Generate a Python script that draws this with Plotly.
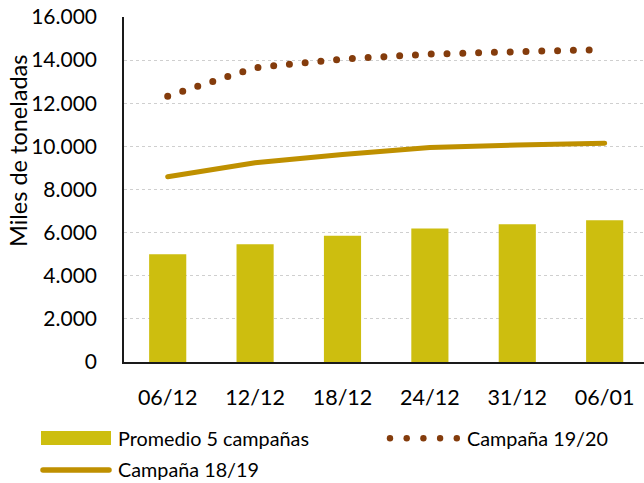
import plotly.graph_objects as go

# ---- data ----
categories = ["06/12", "12/12", "18/12", "24/12", "31/12", "06/01"]
promedio_5 = [5000, 5460, 5860, 6190, 6390, 6570]
campana_1819 = [8590, 9240, 9620, 9950, 10060, 10150]
campana_1920 = [12330, 13650, 14050, 14280, 14390, 14490]
y_ticks = [0, 2000, 4000, 6000, 8000, 10000, 12000, 14000, 16000]

BAR_C = "#CDBE0F"
GOLD = "#BF9000"
BROWN = "#843C0C"
FONT = "Lato"

W, H = 644, 483
ML, MR, MT, MB = 124, 0, 17, 121
PW, PH = W - ML - MR, H - MT - MB


def px(x):
    return (x - ML) / PW


def py(y):
    return (H - MB - y) / PH


fig = go.Figure()
fig.add_trace(go.Bar(x=categories, y=promedio_5, name="Promedio 5 campañas",
                     marker=dict(color=BAR_C, line=dict(width=0))))
fig.add_trace(go.Scatter(x=categories, y=campana_1819, name="Campaña 18/19", mode="lines",
                         line=dict(color=GOLD, width=5)))
fig.add_trace(go.Scatter(x=categories, y=campana_1920, name="Campaña 19/20", mode="lines",
                         line=dict(color=BROWN, width=7, dash="0px,15.8px")))

shapes = [
    dict(type="rect", xref="paper", yref="paper", x0=px(41), x1=px(111), y0=py(445), y1=py(431),
         fillcolor=BAR_C, line=dict(width=0)),
    dict(type="line", xref="paper", yref="paper", x0=px(43), x1=px(109), y0=py(470), y1=py(470),
         line=dict(color=GOLD, width=5.5)),
]
for cx in [390, 406.7, 423.4, 440.1, 456.8]:
    shapes.append(dict(type="circle", xref="paper", yref="paper",
                       x0=px(cx - 3.2), x1=px(cx + 3.2), y0=py(441.5), y1=py(435.1),
                       fillcolor=BROWN, line=dict(width=0)))

annotations = [
    dict(text="Promedio 5 campañas", xref="paper", yref="paper", x=px(116), y=py(438),
         xanchor="left", yanchor="middle", showarrow=False, font=dict(size=19.8, color="#000", family=FONT)),
    dict(text="Campaña 19/20", xref="paper", yref="paper", x=px(465), y=py(438),
         xanchor="left", yanchor="middle", showarrow=False, font=dict(size=19.8, color="#000", family=FONT)),
    dict(text="Campaña 18/19", xref="paper", yref="paper", x=px(116), y=py(469),
         xanchor="left", yanchor="middle", showarrow=False, font=dict(size=19.8, color="#000", family=FONT)),
    dict(text="Miles de toneladas", xref="paper", yref="paper", x=px(18), y=py(151),
         xanchor="center", yanchor="middle", textangle=-90, showarrow=False,
         font=dict(size=23.5, color="#000", family=FONT)),
]

fig.update_layout(
    width=W, height=H,
    margin=dict(l=ML, r=MR, t=MT, b=MB),
    paper_bgcolor="white", plot_bgcolor="white",
    separators=",.",
    showlegend=False,
    bargap=0.575,
    font=dict(family=FONT, color="#000"),
    shapes=shapes,
    annotations=annotations,
)
fig.update_xaxes(type="category", range=[-0.5, 5.45], showline=True, linecolor="#1a1a1a", linewidth=1.5,
                 showgrid=False, ticks="", tickfont=dict(size=21.5, family=FONT, color="#000"),
                 ticklabelstandoff=15)
fig.update_yaxes(range=[0, 16000], tickvals=y_ticks, tickformat=",d", showline=True,
                 linecolor="#1a1a1a", linewidth=1.5, showgrid=True, gridcolor="#CFCFCF",
                 griddash="dot", gridwidth=1, zeroline=False, ticks="",
                 tickfont=dict(size=21, family=FONT, color="#000"), ticklabelstandoff=21)

post = """
document.body.style.margin='0';
document.body.style.overflow='hidden';
var s=document.createElement('style');
s.innerHTML='body{margin:0 !important;} .js-line, .shapelayer path{stroke-linecap:round !important;}';
document.head.appendChild(s);
"""
fig.write_html("out.html", post_script=post, config={"displayModeBar": False})
